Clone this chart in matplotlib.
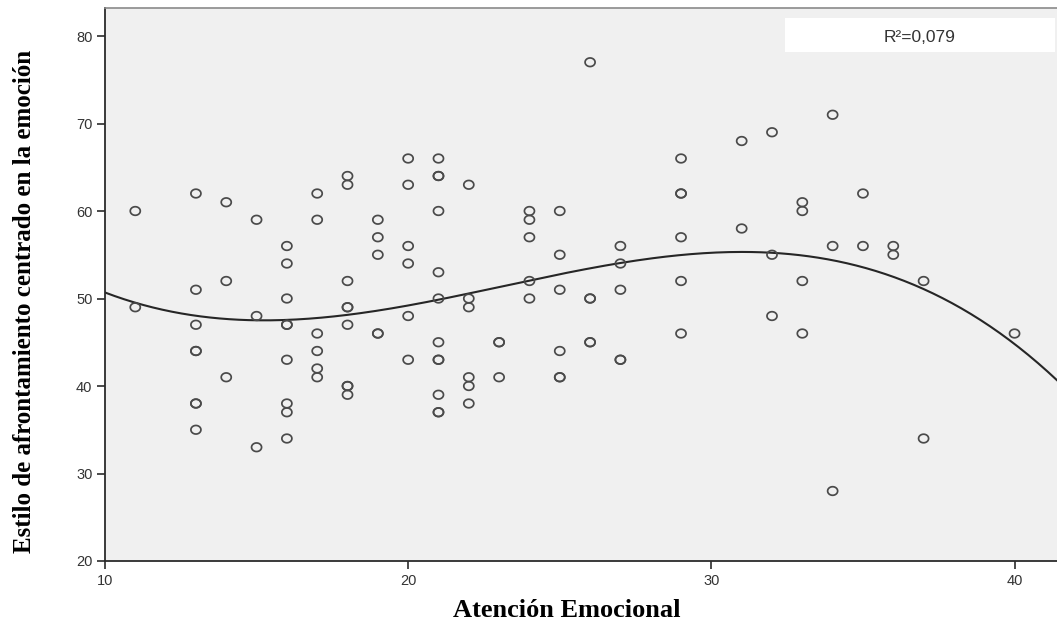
import numpy as np
import matplotlib
matplotlib.use("Agg")
import matplotlib.pyplot as plt
from matplotlib.patches import Rectangle
from matplotlib.path import Path

# Atención Emocional scores and the paired coping-style scores
atencion = [
    11, 11,
    13, 13, 13, 13, 13, 13, 13, 13,
    14, 14, 14,
    15, 15, 15,
    16, 16, 16, 16, 16, 16, 16, 16, 16,
    17, 17, 17, 17, 17, 17,
    18, 18, 18, 18, 18, 18, 18, 18, 18,
    19, 19, 19, 19, 19,
    20, 20, 20, 20, 20, 20,
    21, 21, 21, 21, 21, 21, 21, 21, 21, 21, 21, 21,
    22, 22, 22, 22, 22, 22,
    23, 23, 23,
    24, 24, 24, 24, 24,
    25, 25, 25, 25, 25, 25,
    26, 26, 26, 26, 26,
    27, 27, 27, 27, 27,
    29, 29, 29, 29, 29, 29,
    31, 31,
    32, 32, 32,
    33, 33, 33, 33,
    34, 34, 34,
    35, 35,
    36, 36,
    37, 37,
    40,
]
afrontamiento = [
    60, 49,
    62, 51, 47, 44, 44, 38, 38, 35,
    61, 52, 41,
    59, 48, 33,
    56, 54, 50, 47, 47, 43, 38, 37, 34,
    62, 59, 46, 44, 42, 41,
    64, 63, 52, 49, 49, 47, 40, 40, 39,
    59, 57, 55, 46, 46,
    66, 63, 56, 54, 48, 43,
    66, 64, 64, 60, 53, 50, 45, 43, 43, 39, 37, 37,
    63, 50, 49, 41, 40, 38,
    45, 45, 41,
    60, 59, 57, 52, 50,
    60, 55, 51, 44, 41, 41,
    77, 50, 50, 45, 45,
    56, 54, 51, 43, 43,
    66, 62, 62, 57, 52, 46,
    68, 58,
    69, 55, 48,
    61, 60, 52, 46,
    71, 56, 28,
    62, 56,
    56, 55,
    52, 34,
    46,
]
r2_label = "R²=0,079"
x_ticks = [10, 20, 30, 40]
y_ticks = [20, 30, 40, 50, 60, 70, 80]

x = np.array(atencion, dtype=float)
y = np.array(afrontamiento, dtype=float)

fig = plt.figure(figsize=(10.57, 6.25), dpi=100)
fig.patch.set_facecolor("white")
ax = fig.add_axes([0.0993, 0.1024, 0.9007, 0.8848])
ax.set_facecolor("#f0f0f0")

# cubic fit line
coef = np.polyfit(x, y, 3)
xs = np.linspace(10, 41.4, 300)
ax.plot(xs, np.polyval(coef, xs), color="#262626", lw=1.5, zorder=2)

# slightly wide open-ellipse marker
t = np.linspace(0, 2 * np.pi, 64)
ring = Path(np.column_stack([np.cos(t), np.sin(t) / 1.17]), closed=True)
ax.scatter(x, y, s=52, marker=ring, facecolors="none", edgecolors="#4a4a4a",
           linewidths=1.25, zorder=3)

ax.set_xlim(10, 41.4)
ax.set_ylim(20, 83.2)
ax.set_xticks(x_ticks)
ax.set_yticks(y_ticks)

for side in ("left", "bottom"):
    ax.spines[side].set_color("#2b2b2b")
    ax.spines[side].set_linewidth(1.3)
ax.spines["top"].set_color("#8a8a8a")
ax.spines["top"].set_linewidth(1.2)
ax.spines["right"].set_visible(False)

ax.tick_params(axis="both", direction="out", length=6, width=1.2,
               color="#2b2b2b", labelsize=10.5, labelcolor="#333333")
ax.tick_params(axis="y", pad=3)
for lbl in ax.get_xticklabels() + ax.get_yticklabels():
    lbl.set_family("Liberation Sans")

ax.set_xlabel("Atención Emocional", family="Liberation Serif",
              fontweight="bold", fontsize=19)
ax.xaxis.set_label_coords(0.485, -0.068)
ax.set_ylabel("Estilo de afrontamiento centrado en la emoción",
              family="Liberation Serif", fontweight="bold", fontsize=18)
ax.yaxis.set_label_coords(-0.072, 0.47)

# R² annotation box
ax.add_patch(Rectangle((0.714, 0.920), 0.284, 0.062, transform=ax.transAxes,
                       facecolor="white", edgecolor="none", zorder=4))
ax.text(0.856, 0.947, r2_label, transform=ax.transAxes, ha="center",
        va="center", fontsize=12.5, family="Liberation Sans", color="#333333",
        zorder=5)

fig.savefig("out.png", dpi=100)
